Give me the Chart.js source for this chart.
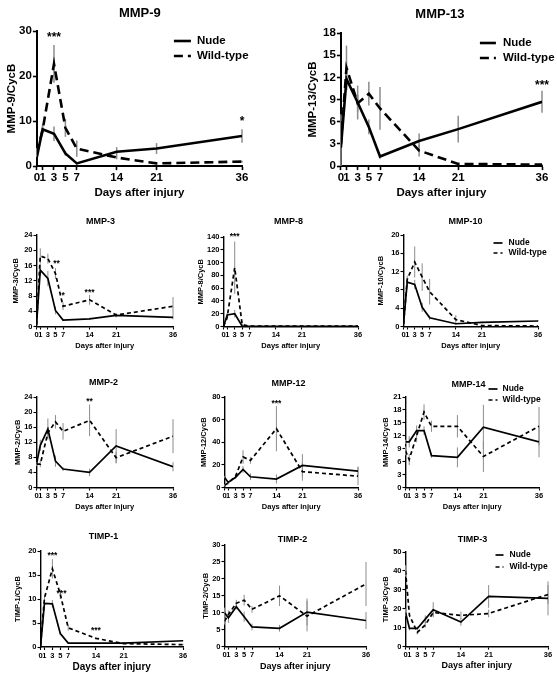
<!DOCTYPE html>
<html>
<head>
<meta charset="utf-8">
<script src="https://cdn.jsdelivr.net/npm/chart.js@4"></script>
<style>
body{margin:0;background:#fff;width:557px;height:677px;position:relative;overflow:hidden}
canvas{position:absolute}
</style>
</head>
<body>
<script>
// ---- data ----
var days = [0, 1, 3, 5, 7, 14, 21, 36];
var dayTicks = [0, 1, 3, 5, 7, 14, 21, 36];
var seriesNames = ['Nude', 'Wild-type'];

var mmp9Nude = [2.0, 8.2, 7.2, 2.8, 0.6, 3.2, 3.9, 6.7];
var mmp9NudeErr = [0, 1.0, 1.6, 0.5, 0.3, 1.0, 1.2, 1.5];
var mmp9Wt = [3.0, 8.0, 22.7, 8.5, 3.9, 1.9, 0.6, 1.0];
var mmp9WtErr = [1.0, 1.0, 4.2, 2.0, 1.8, 0.4, 0.2, 0.2];
var mmp9Stars = [[3, 29.2, '***'], [36, 10.7, '*']];

var mmp13Nude = [2.5, 11.8, 8.6, 5.3, 1.3, 3.4, 5.0, 8.7];
var mmp13NudeErr = [0, 1.5, 2.3, 1.0, 0.3, 1.0, 1.8, 1.5];
var mmp13Wt = [3.0, 13.3, 8.5, 9.8, 7.8, 2.1, 0.3, 0.2];
var mmp13WtErr = [4.0, 3.0, 1.2, 1.6, 2.9, 0.8, 0.1, 0.1];
var mmp13Stars = [[36, 11.4, '***']];

var mmp3Nude = [0.5, 14.8, 12.6, 4.2, 1.7, 2.0, 2.9, 2.4];
var mmp3NudeErr = [0, 1.5, 2.0, 1.0, 0.3, 0.3, 0.5, 0.5];
var mmp3Wt = [0.5, 18.5, 17.8, 13.9, 5.3, 7.0, 3.0, 5.3];
var mmp3WtErr = [0, 2.0, 1.3, 1.4, 1.0, 1.3, 0.5, 2.4];
var mmp3Stars = [[5.3, 17.2, '**'], [7, 8.8, '*'], [14, 9.5, '***']];

var mmp8Nude = [0, 18, 20, 0.5, 0.3, 0.3, 0.3, 0.3];
var mmp8NudeErr = [0, 3, 6, 0, 0, 0, 0, 0];
var mmp8Wt = [0, 15, 92, 3, 0.5, 0.5, 0.5, 0.5];
var mmp8WtErr = [0, 5, 41, 2, 0, 0, 0, 0];
var mmp8Stars = [[3, 144.7, '***']];

var mmp10Nude = [0.5, 9.7, 9.2, 4.2, 1.9, 0.6, 0.9, 1.2];
var mmp10NudeErr = [0, 0.8, 1.0, 1.0, 0.5, 0.2, 0.2, 0.2];
var mmp10Wt = [0.5, 10.3, 14.1, 10.8, 7.6, 1.5, 0.2, 0.1];
var mmp10WtErr = [0, 0.8, 3.4, 3.0, 2.8, 1.0, 0.1, 0];
var mmp10Stars = [];

var mmp2Nude = [6.2, 11.2, 15.5, 7.0, 4.9, 4.0, 11.0, 5.5];
var mmp2NudeErr = [0.5, 1.5, 2.8, 1.5, 0.5, 1.0, 4.5, 1.2];
var mmp2Wt = [6.2, 6.2, 14.5, 17.4, 14.9, 17.8, 7.9, 13.6];
var mmp2WtErr = [0.5, 0.8, 1.5, 1.8, 2.2, 4.2, 1.5, 4.5];
var mmp2Stars = [[14, 23.4, '**']];

var mmp12Nude = [9, 4.5, 9, 16, 9.5, 7.5, 19.5, 14.5];
var mmp12NudeErr = [1, 1, 1, 3, 3, 4, 10, 4];
var mmp12Wt = [2, 4, 10, 27, 24, 52, 14, 10];
var mmp12WtErr = [1, 1, 2, 6, 3, 20, 8, 8];
var mmp12Stars = [[14, 76.4, '***']];

var mmp14Nude = [10.6, 10.6, 13.2, 13.2, 7.4, 7.0, 14.0, 10.6];
var mmp14NudeErr = [0.5, 1.3, 1.2, 1.0, 0.5, 2.3, 5.2, 3.6];
var mmp14Wt = [8.5, 6.5, 12.0, 17.5, 14.2, 14.2, 7.2, 14.2];
var mmp14WtErr = [1.0, 1.3, 1.5, 1.8, 1.3, 2.6, 3.6, 4.5];
var mmp14Stars = [];

var timp1Nude = [0, 9.1, 9.0, 2.8, 0.8, 0.8, 0.8, 1.3];
var timp1NudeErr = [0, 0.8, 0.8, 0.3, 0.1, 0.1, 0.1, 0.1];
var timp1Wt = [0.3, 10.2, 16.3, 11.0, 4.0, 1.8, 0.7, 0.5];
var timp1WtErr = [0, 0.5, 2.0, 1.0, 0.6, 0.2, 0.1, 0.1];
var timp1Stars = [[3, 19.6, '***'], [5.3, 11.7, '***'], [14, 3.9, '***']];

var timp2Nude = [10.0, 8.5, 11.8, 8.8, 5.8, 5.4, 10.2, 7.7];
var timp2NudeErr = [1.5, 1.5, 0.8, 1.5, 1.0, 1.0, 4.0, 2.5];
var timp2Wt = [7.5, 9.5, 12.8, 13.7, 11.0, 15.0, 9.0, 18.5];
var timp2WtErr = [1.0, 1.2, 1.0, 1.6, 1.0, 3.0, 4.5, 6.5];
var timp2Stars = [];

var timp3Nude = [18, 9.6, 9.6, 14.5, 19.5, 13.0, 26.5, 25.5];
var timp3NudeErr = [2, 1, 1, 2, 4, 2, 6, 9];
var timp3Wt = [40, 16.5, 7.5, 11.5, 18, 16.5, 17.5, 27.5];
var timp3WtErr = [3, 1, 1, 1.5, 2, 2, 2, 5];
var timp3Stars = [];

var panels = [
    {title:'MMP-9', yTitle:'MMP-9/CycB', yMax:30, yStep:10, nude:mmp9Nude, nudeErr:mmp9NudeErr, wt:mmp9Wt, wtErr:mmp9WtErr, stars:mmp9Stars},
    {title:'MMP-13', yTitle:'MMP-13/CycB', yMax:18, yStep:3, nude:mmp13Nude, nudeErr:mmp13NudeErr, wt:mmp13Wt, wtErr:mmp13WtErr, stars:mmp13Stars},
    {title:'MMP-3', yTitle:'MMP-3/CycB', yMax:24, yStep:4, nude:mmp3Nude, nudeErr:mmp3NudeErr, wt:mmp3Wt, wtErr:mmp3WtErr, stars:mmp3Stars},
    {title:'MMP-8', yTitle:'MMP-8/CycB', yMax:140, yStep:20, nude:mmp8Nude, nudeErr:mmp8NudeErr, wt:mmp8Wt, wtErr:mmp8WtErr, stars:mmp8Stars},
    {title:'MMP-10', yTitle:'MMP-10/CycB', yMax:20, yStep:4, nude:mmp10Nude, nudeErr:mmp10NudeErr, wt:mmp10Wt, wtErr:mmp10WtErr, stars:mmp10Stars},
    {title:'MMP-2', yTitle:'MMP-2/CycB', yMax:24, yStep:4, nude:mmp2Nude, nudeErr:mmp2NudeErr, wt:mmp2Wt, wtErr:mmp2WtErr, stars:mmp2Stars},
    {title:'MMP-12', yTitle:'MMP-12/CycB', yMax:80, yStep:20, nude:mmp12Nude, nudeErr:mmp12NudeErr, wt:mmp12Wt, wtErr:mmp12WtErr, stars:mmp12Stars},
    {title:'MMP-14', yTitle:'MMP-14/CycB', yMax:21, yStep:3, nude:mmp14Nude, nudeErr:mmp14NudeErr, wt:mmp14Wt, wtErr:mmp14WtErr, stars:mmp14Stars},
    {title:'TIMP-1', yTitle:'TIMP-1/CycB', yMax:20, yStep:5, nude:timp1Nude, nudeErr:timp1NudeErr, wt:timp1Wt, wtErr:timp1WtErr, stars:timp1Stars},
    {title:'TIMP-2', yTitle:'TIMP-2/CycB', yMax:30, yStep:5, nude:timp2Nude, nudeErr:timp2NudeErr, wt:timp2Wt, wtErr:timp2WtErr, stars:timp2Stars},
    {title:'TIMP-3', yTitle:'TIMP-3/CycB', yMax:50, yStep:10, nude:timp3Nude, nudeErr:timp3NudeErr, wt:timp3Wt, wtErr:timp3WtErr, stars:timp3Stars}
];

// ---- layout (page pixels): plot box, y-title x, x-title y, chart title, legend ----
var boxes = [
    {top:0,   L:37,  R:242, T:31,  B:166, yt:12,  xt:193, tx:140, ty:13,  big:true, leg:[174,191,197,41,56]},
    {top:0,   L:341, R:542, T:33,  B:166, yt:313, xt:193, tx:440, ty:14,  big:true, leg:[480,496,503,43,58]},
    {top:210, L:36,  R:172, T:235, B:326, yt:15,  xt:345, tx:100, ty:222},
    {top:210, L:223, R:357, T:237, B:326, yt:200, xt:345, tx:288, ty:222},
    {top:210, L:403, R:537, T:235, B:326, yt:380, xt:345, tx:465, ty:222, leg:[493,502,508,243,253]},
    {top:370, L:36,  R:172, T:397, B:487, yt:17,  xt:506, tx:103, ty:383},
    {top:370, L:224, R:357, T:397, B:487, yt:203, xt:506, tx:288, ty:384},
    {top:370, L:405, R:538, T:397, B:487, yt:385, xt:506, tx:468, ty:385, leg:[488,497,502,389,400]},
    {top:520, L:40,  R:182, T:551, B:647, yt:17,  xt:667, tx:103, ty:537, xtf:10},
    {top:520, L:224, R:365, T:545, B:647, yt:205, xt:667, tx:292, ty:540, xtf:9},
    {top:520, L:405, R:547, T:552, B:647, yt:385, xt:666, tx:472, ty:540, xtf:9, leg:[495,503,509,555,567]}
];

var FONT = "'Liberation Sans', Arial, sans-serif";

function decorPlugin(p, b, ox, oy, f){
    return {
        id: 'decor',
        beforeDatasetsDraw: function(chart){
            var ctx = chart.ctx, xs = chart.scales.x, ys = chart.scales.y;
            ctx.save();
            ctx.strokeStyle = '#8c8c8c';
            ctx.lineWidth = b.big ? 1.5 : 1;
            [[p.nude, p.nudeErr], [p.wt, p.wtErr]].forEach(function(s){
                for (var i = 0; i < days.length; i++){
                    if (!s[1][i]) continue;
                    var x = xs.getPixelForValue(days[i]);
                    ctx.beginPath();
                    ctx.moveTo(x, ys.getPixelForValue(Math.max(0, s[0][i] - s[1][i])));
                    ctx.lineTo(x, ys.getPixelForValue(s[0][i] + s[1][i]));
                    ctx.stroke();
                }
            });
            ctx.restore();
        },
        afterDraw: function(chart){
            var ctx = chart.ctx, xs = chart.scales.x, ys = chart.scales.y;
            ctx.save();
            ctx.fillStyle = '#000';
            ctx.font = 'bold ' + f.title + 'px ' + FONT;
            ctx.textAlign = 'center';
            ctx.textBaseline = 'middle';
            ctx.fillText(p.title, b.tx - ox, b.ty - oy);

            // legend
            if (b.leg){
                var l = b.leg;
                ctx.strokeStyle = '#000';
                ctx.lineWidth = f.lw;
                ctx.textAlign = 'left';
                ctx.font = 'bold ' + f.legend + 'px ' + FONT;
                [0, 1].forEach(function(k){
                    var y = l[3 + k] - oy;
                    ctx.setLineDash(k ? f.dash : []);
                    ctx.beginPath();
                    ctx.moveTo(l[0] - ox, y);
                    ctx.lineTo(l[1] - ox, y);
                    ctx.stroke();
                    ctx.fillText(seriesNames[k], l[2] - ox, y);
                });
                ctx.setLineDash([]);
            }

            // significance marks
            ctx.textAlign = 'center';
            ctx.textBaseline = 'alphabetic';
            ctx.font = 'bold ' + f.star + 'px ' + FONT;
            p.stars.forEach(function(s){
                ctx.fillText(s[2], xs.getPixelForValue(s[0]), ys.getPixelForValue(s[1]) + 0.57 * f.star);
            });
            ctx.restore();
        }
    };
}

function makePanel(p, b){
    var f = b.big
        ? {title:13, tick:11.5, axis:11.5, legend:11.5, star:12, lw:2.6, dash:[9,5], axisW:2, tl:4}
        : {title:9, tick:7.5, axis:7.5, legend:8.5, star:8.5, lw:1.7, dash:[4,3], axisW:1.4, tl:3};
    var xtf = b.xtf || f.axis;
    var padL = b.L - b.yt + f.axis * 0.6;
    var padR = 557 - b.R > 20 ? 12 : 557 - b.R;
    var padT = b.T - b.top;
    var padB = b.xt - b.B + xtf * 0.6;
    var ox = b.L - padL, oy = b.top;
    var w = Math.round(b.R - b.L + padL + padR), h = Math.round(padT + b.B - b.T + padB);

    var c = document.createElement('canvas');
    c.width = w; c.height = h;
    c.style.left = ox + 'px'; c.style.top = oy + 'px';
    c.style.width = w + 'px'; c.style.height = h + 'px';
    document.body.appendChild(c);

    function pts(arr){ return days.map(function(d, i){ return {x:d, y:arr[i]}; }); }

    new Chart(c, {
        type: 'line',
        data: {
            datasets: [
                {label:seriesNames[0], data:pts(p.nude), borderColor:'#000', borderWidth:f.lw, pointRadius:0, tension:0, fill:false},
                {label:seriesNames[1], data:pts(p.wt), borderColor:'#000', borderWidth:f.lw, borderDash:f.dash, pointRadius:0, tension:0, fill:false}
            ]
        },
        options: {
            responsive: false,
            animation: false,
            devicePixelRatio: 1,
            layout: {padding: {top:padT, right:padR, left:0, bottom:0}},
            plugins: {legend:{display:false}, tooltip:{enabled:false}},
            scales: {
                x: {
                    type: 'linear', min: 0, max: 36,
                    afterBuildTicks: function(s){ s.ticks = dayTicks.map(function(v){ return {value:v}; }); },
                    afterFit: function(s){ s.height = padB; },
                    ticks: {autoSkip:false, maxRotation:0, color:'#000', padding:1, font:{family:FONT, size:f.tick, weight:'bold'}},
                    grid: {drawOnChartArea:false, color:'#000', tickLength:f.tl, tickWidth:f.axisW * 0.8},
                    border: {color:'#000', width:f.axisW},
                    title: {display:true, text:'Days after injury', color:'#000', padding:0, font:{family:FONT, size:xtf, weight:'bold', lineHeight:1.2}}
                },
                y: {
                    min: 0, max: p.yMax,
                    afterFit: function(s){ s.width = padL; },
                    ticks: {stepSize:p.yStep, color:'#000', padding:1, font:{family:FONT, size:f.tick, weight:'bold'}},
                    grid: {drawOnChartArea:false, color:'#000', tickLength:f.tl, tickWidth:f.axisW * 0.8},
                    border: {color:'#000', width:f.axisW},
                    title: {display:true, text:p.yTitle, color:'#000', padding:0, font:{family:FONT, size:f.axis, weight:'bold', lineHeight:1.2}}
                }
            }
        },
        plugins: [decorPlugin(p, b, ox, oy, f)]
    });
}

panels.forEach(function(p, i){ makePanel(p, boxes[i]); });
</script>
</body>
</html>
